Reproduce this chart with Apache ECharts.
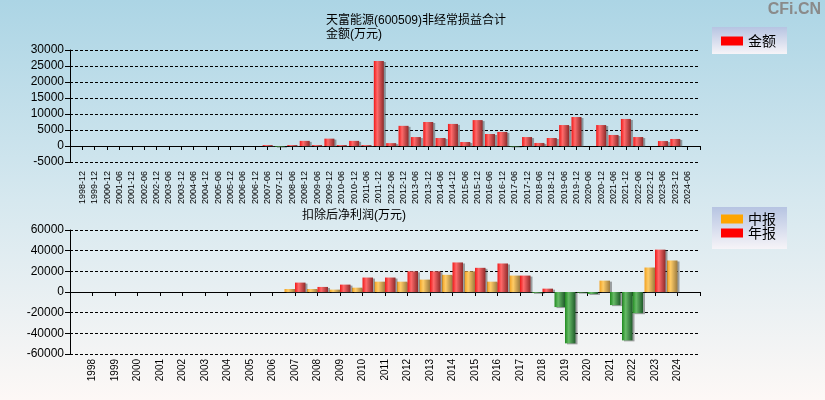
<!doctype html>
<html>
<head>
<meta charset="utf-8">
<title>天富能源(600509)非经常损益合计</title>
<script src="https://cdn.jsdelivr.net/npm/echarts@6/dist/echarts.min.js"></script>
<style>
  html, body { margin: 0; padding: 0; }
  #main { width: 825px; height: 400px; }
</style>
</head>
<body>
<div id="main"></div>
<script>
// 非经常损益合计 (万元)
var periods = ['1998-12','1999-12','2000-12','2001-06','2001-12','2002-06','2002-12','2003-06','2003-12','2004-06',
  '2004-12','2005-06','2005-12','2006-06','2006-12','2007-06','2007-12','2008-06','2008-12','2009-06',
  '2009-12','2010-06','2010-12','2011-06','2011-12','2012-06','2012-12','2013-06','2013-12','2014-06',
  '2014-12','2015-06','2015-12','2016-06','2016-12','2017-06','2017-12','2018-06','2018-12','2019-06',
  '2019-12','2020-06','2020-12','2021-06','2021-12','2022-06','2022-12','2023-06','2023-12','2024-06'];
var amount = ['-','-','-','-','-','-','-','-','-','-',
  '-','-','-','-','-',300,-200,300,1600,300,
  2300,300,1600,300,26600,900,6300,2800,7500,2500,
  6900,1250,8100,3750,4400,-150,2800,950,2500,6550,
  9050,0,6550,3450,8450,2800,0,1550,2200,'-'];

// 扣除后净利润 (万元)
var years = ['1998','1999','2000','2001','2002','2003','2004','2005','2006','2007','2008','2009','2010',
  '2011','2012','2013','2014','2015','2016','2017','2018','2019','2020','2021','2022','2023','2024'];
var midReport = ['-','-','-','-','-','-','-','-','-',2900,2900,2300,4200,
  10000,10000,12000,16600,20000,10000,15900,-800,-14600,-600,11000,-46800,23700,30500];
var yearReport = ['-','-','-','-','-','-','-','-','-',9100,4900,7150,14000,
  14000,20000,20000,28600,23400,27600,15900,3250,-49700,-1900,-12700,-20500,41000,'-'];

var topTicks = { min: -5000, max: 30000, interval: 5000 };
var bottomTicks = { min: -60000, max: 60000, interval: 20000 };

// pad one empty slot at each end, like the original axis
function pad(arr, v) { return [v].concat(arr, [v]); }

function shade(c0, c1, c2) {
  return new echarts.graphic.LinearGradient(0, 0, 1, 0, [
    { offset: 0, color: c0 }, { offset: 0.35, color: c1 }, { offset: 1, color: c2 }
  ]);
}
var redFill = shade('#f01818', '#ff6a6a', '#8e2a2a');
var orangeFill = shade('#f0a020', '#ffcc66', '#9a7a40');
var greenFill = shade('#1f8a1f', '#66bb66', '#1f5a2a');
function colorBy(pos) {
  return function (p) { return p.value < 0 ? greenFill : pos; };
}

var font = 'Liberation Sans, Arial, Noto Sans CJK SC';
var axisCommon = {
  axisLine: { lineStyle: { color: '#000', width: 1 } },
  axisTick: { lineStyle: { color: '#000' }, length: 4 }
};
var yAxisStyle = {
  axisLine: { show: true, lineStyle: { color: '#000' } },
  axisTick: { show: true, length: 5, lineStyle: { color: '#000' } },
  axisLabel: { fontSize: 12, color: '#000', margin: 6, formatter: function (v) { return String(v); } },
  splitLine: { lineStyle: { color: '#000', type: [3, 2] } }
};
var barShadow = { shadowColor: 'rgba(60,60,60,0.45)', shadowOffsetX: 2, shadowOffsetY: 1, shadowBlur: 0 };
var legendBg = function () {
  return new echarts.graphic.LinearGradient(0, 0, 0, 1, [
    { offset: 0, color: '#b6c4e2' }, { offset: 1, color: '#f6f4f8' }
  ]);
};

var chart = echarts.init(document.getElementById('main'));
chart.setOption({
  animation: false,
  backgroundColor: new echarts.graphic.LinearGradient(0, 0, 0, 1, [
    { offset: 0, color: '#acd5e5' }, { offset: 0.5, color: '#d6e8ef' }, { offset: 1, color: '#fdf8f6' }
  ]),
  textStyle: { fontFamily: font },
  title: [
    { text: '天富能源(600509)非经常损益合计', left: 321, top: 10, textStyle: { fontSize: 12, fontWeight: 'normal', color: '#000' } },
    { text: '金额(万元)', left: 321, top: 24, textStyle: { fontSize: 12, fontWeight: 'normal', color: '#000' } },
    { text: '扣除后净利润(万元)', left: 297, top: 205, textStyle: { fontSize: 12, fontWeight: 'normal', color: '#000' } }
  ],
  graphic: [{
    type: 'text', right: 4, top: 2,
    style: { text: 'CFi.CN', fontSize: 16, fontWeight: 'bold', fill: '#8a8a8a', fontFamily: 'Liberation Sans' }
  }],
  legend: [{
    left: 712, top: 27, padding: [7, 11, 6, 9],
    itemWidth: 22, itemHeight: 9, itemGap: 5,
    icon: 'rect',
    backgroundColor: legendBg(),
    textStyle: { fontSize: 14, color: '#000', fontFamily: 'Noto Sans CJK SC' },
    data: [{ name: '金额', itemStyle: { color: '#ff0000' } }]
  }, {
    left: 712, top: 207, padding: [5, 11, 9, 9], orient: 'vertical',
    itemWidth: 22, itemHeight: 9, itemGap: 0,
    icon: 'rect',
    backgroundColor: legendBg(),
    textStyle: { fontSize: 14, color: '#000', fontFamily: 'Noto Sans CJK SC' },
    data: [
      { name: '中报', itemStyle: { color: '#ffa500' } },
      { name: '年报', itemStyle: { color: '#ff0000' } }
    ]
  }],
  grid: [
    { left: 70, right: 125, top: 50, height: 112 },
    { left: 70, right: 125, top: 230, height: 124 }
  ],
  xAxis: [
    Object.assign({
      type: 'category', gridIndex: 0, boundaryGap: false, data: pad(periods, ''),
      axisLabel: { rotate: 90, fontSize: 9, color: '#000', margin: 9, interval: 0,
        fontFamily: 'Liberation Sans Narrow, Liberation Sans' }
    }, axisCommon),
    Object.assign({
      type: 'category', gridIndex: 1, boundaryGap: false, data: pad(years, ''),
      axisLabel: { rotate: 90, fontSize: 10, color: '#000', margin: 5, interval: 0 }
    }, axisCommon)
  ],
  yAxis: [
    Object.assign({ type: 'value', gridIndex: 0, min: topTicks.min, max: topTicks.max, interval: topTicks.interval }, yAxisStyle),
    Object.assign({ type: 'value', gridIndex: 1, min: bottomTicks.min, max: bottomTicks.max, interval: bottomTicks.interval }, yAxisStyle)
  ],
  series: [
    { name: '金额', type: 'bar', xAxisIndex: 0, yAxisIndex: 0, barWidth: 10,
      data: pad(amount, '-'),
      itemStyle: Object.assign({ color: colorBy(redFill) }, barShadow) },
    { name: '中报', type: 'bar', xAxisIndex: 1, yAxisIndex: 1, barWidth: 10.5, barGap: '0%',
      data: pad(midReport, '-'),
      itemStyle: Object.assign({ color: colorBy(orangeFill) }, barShadow) },
    { name: '年报', type: 'bar', xAxisIndex: 1, yAxisIndex: 1, barWidth: 10.5, barGap: '0%',
      data: pad(yearReport, '-'),
      itemStyle: Object.assign({ color: colorBy(redFill) }, barShadow) }
  ]
});
</script>
</body>
</html>
